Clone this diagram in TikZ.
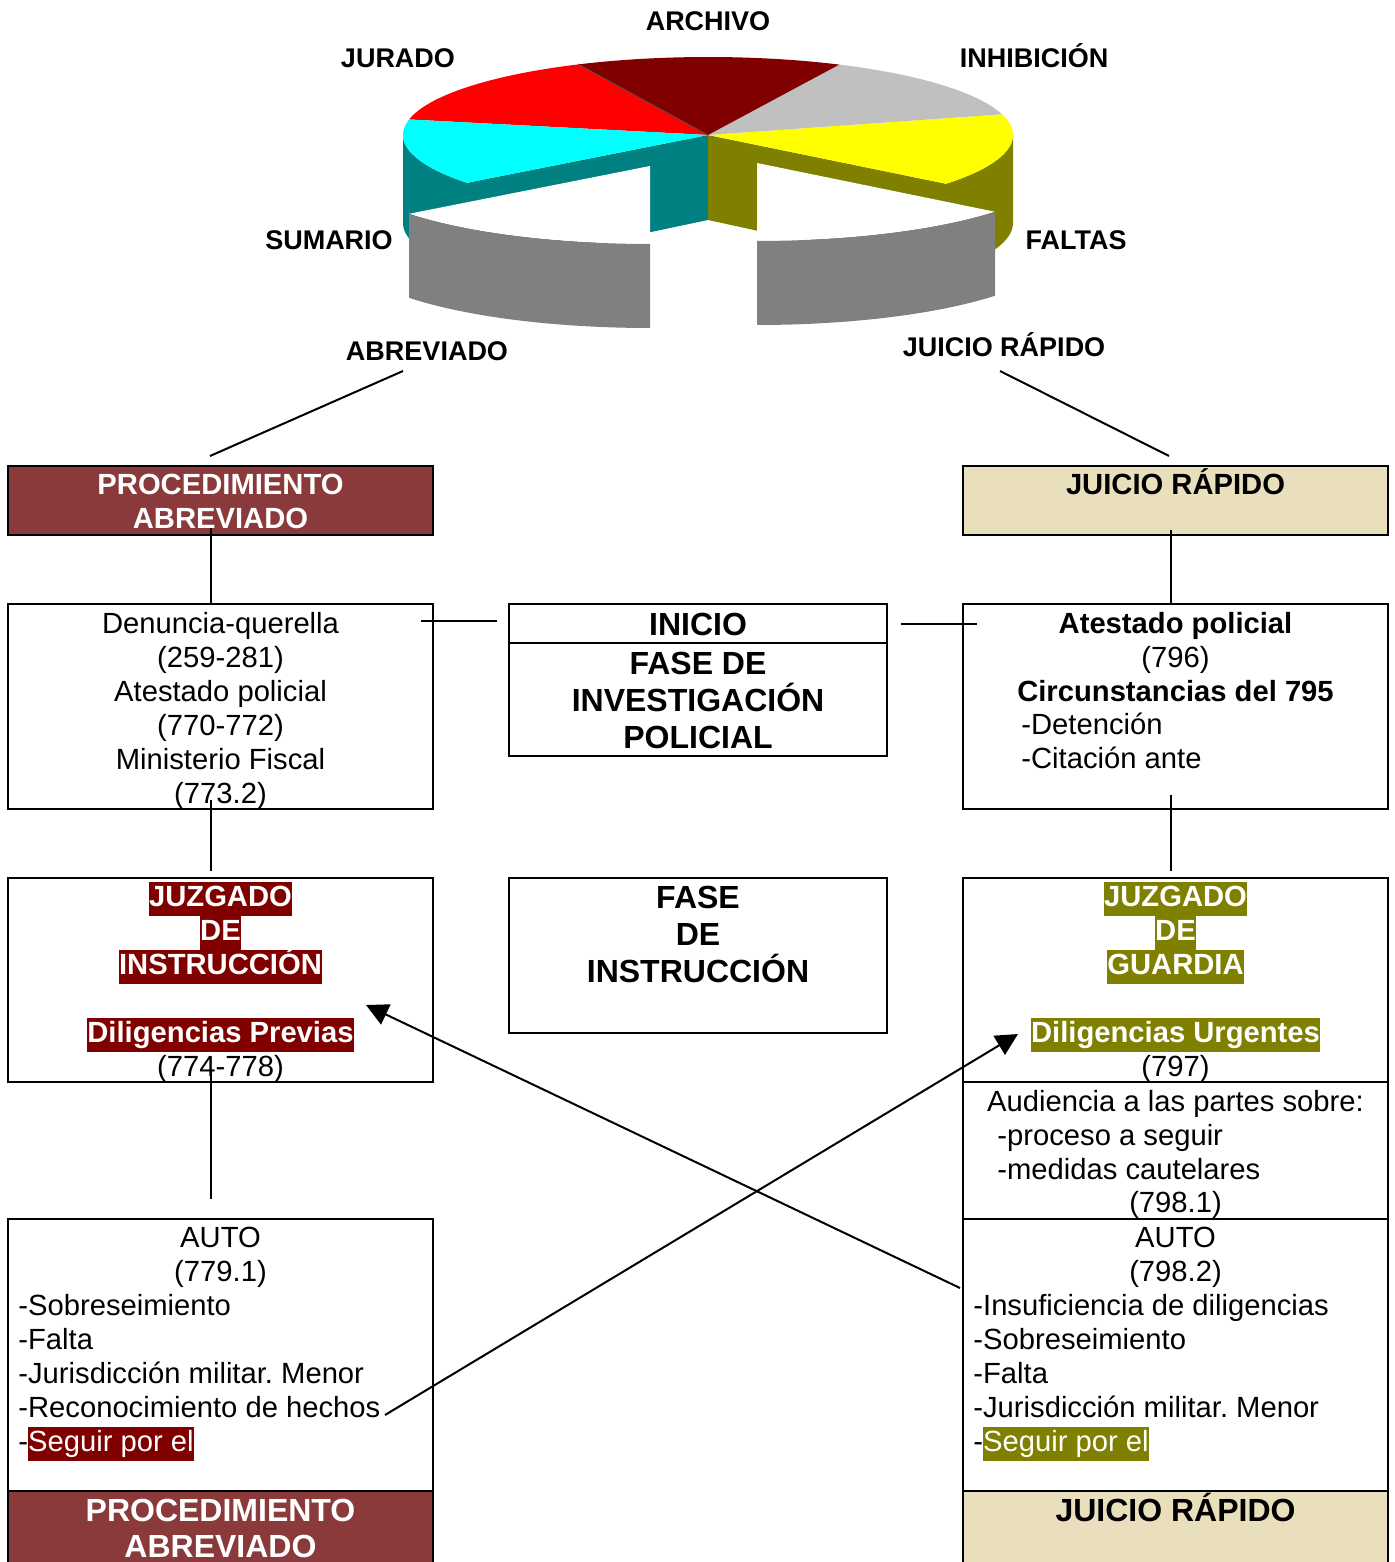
\documentclass[tikz,border=0pt]{standalone}
\usepackage{fontspec}
\setmainfont{Liberation Sans}
\usetikzlibrary{arrows.meta}
\definecolor{pared}{RGB}{138,58,58}
\definecolor{hlred}{RGB}{128,0,0}
\definecolor{hlolive}{RGB}{128,128,0}
\definecolor{beige}{RGB}{233,223,189}
\definecolor{pieteal}{RGB}{0,128,128}
\definecolor{piegray}{RGB}{128,128,128}
\definecolor{piesilver}{RGB}{192,192,192}
\definecolor{piecyan}{RGB}{0,255,255}
\definecolor{pieyellow}{RGB}{255,255,0}
\definecolor{piered}{RGB}{255,0,0}
\newcommand\Ln[1]{\strut\smash{#1}}
\newcommand\hlR[1]{{\setlength{\fboxsep}{0pt}\colorbox{hlred}{\strut\smash{\textcolor{white}{#1}}}}}
\newcommand\hlO[1]{{\setlength{\fboxsep}{0pt}\colorbox{hlolive}{\strut\smash{\textcolor{white}{#1}}}}}
\begin{document}
\frenchspacing
\begin{tikzpicture}[x=0.5pt,y=-0.5pt,
  box/.style={draw=black, line width=1.2pt, inner sep=0pt, outer sep=0pt, rectangle, minimum width=212.5pt},
  midbox/.style={draw=black, line width=1.2pt, inner sep=0pt, outer sep=0pt, rectangle, minimum width=189pt},
  conn/.style={line width=1pt, black},
  arr/.style={line width=1pt, black, -{Triangle[length=11pt,width=11pt]}},
  pielbl/.style={font=\fontsize{13.5}{16}\selectfont\bfseries, inner sep=0pt, text height=9.7pt, text depth=0pt},
  body/.style={font=\fontsize{14.6}{17}\selectfont, inner sep=0pt, align=center, anchor=north},
  bodyl/.style={font=\fontsize{14.6}{17}\selectfont, inner sep=0pt, align=left, anchor=north west},
  head/.style={font=\fontsize{16}{18.5}\selectfont\bfseries, inner sep=0pt, align=center, anchor=north},
  bighead/.style={font=\fontsize{16}{18}\selectfont\bfseries, inner sep=0pt, align=center, anchor=north}
]
\useasboundingbox (0,0) rectangle (1394,1562);
\clip (0,0) rectangle (1394,1562);

% ---------- 3D pie ----------
\fill[pieteal] (708,135) -- plot[domain=142.2:180,samples=25] ({708+305*cos(\x)},{135+78*sin(\x)})
  -- plot[domain=180:142.2,samples=25] ({708+305*cos(\x)},{223+78*sin(\x)}) -- (708,220) -- cycle;
\fill[hlolive] (708,135) -- plot[domain=38.7:0,samples=25] ({708+305*cos(\x)},{135+78*sin(\x)})
  -- plot[domain=0:38.7,samples=25] ({708+305*cos(\x)},{223+78*sin(\x)}) -- (708,220) -- cycle;
\fill[pieyellow] (708,135) -- plot[domain=-15.4:38.7,samples=30] ({708+305*cos(\x)},{135+78*sin(\x)}) -- cycle;
\fill[piesilver] (708,135) -- plot[domain=295.5:344.6,samples=30] ({708+305*cos(\x)},{135+78*sin(\x)}) -- cycle;
\fill[hlred] (708,135) -- plot[domain=244.8:295.5,samples=30] ({708+305*cos(\x)},{135+78*sin(\x)}) -- cycle;
\fill[piered] (708,135) -- plot[domain=191.5:244.8,samples=30] ({708+305*cos(\x)},{135+78*sin(\x)}) -- cycle;
\fill[piecyan] (708,135) -- plot[domain=142.2:191.5,samples=30] ({708+305*cos(\x)},{135+78*sin(\x)}) -- cycle;
\draw[line width=0.4pt, black!70] (708,135) -- (578,64);
% exploded slices
\fill[white] (650,166) -- plot[domain=90:142.2,samples=25] ({650+305*cos(\x)},{166+78*sin(\x)}) -- cycle;
\fill[piegray] plot[domain=90:142.2,samples=25] ({650+305*cos(\x)},{166+78*sin(\x)})
  -- plot[domain=142.2:90,samples=25] ({650+305*cos(\x)},{250+78*sin(\x)}) -- cycle;
\fill[white] (757,163) -- plot[domain=38.7:90,samples=25] ({757+305*cos(\x)},{163+78*sin(\x)}) -- cycle;
\fill[piegray] plot[domain=38.7:90,samples=25] ({757+305*cos(\x)},{163+78*sin(\x)})
  -- plot[domain=90:38.7,samples=25] ({757+305*cos(\x)},{247+78*sin(\x)}) -- cycle;

% pie labels
\node[pielbl] (lArch) at (708,21) {ARCHIVO};
\node[pielbl] (lJur) at (398,58) {JURADO};
\node[pielbl] (lInh) at (1034,58) {INHIBICIÓN};
\node[pielbl] (lSum) at (329,240) {SUMARIO};
\node[pielbl] (lFal) at (1076,240) {FALTAS};
\node[pielbl] (lAbr) at (427,351) {ABREVIADO};
\node[pielbl] (lJR) at (1004,347) {JUICIO RÁPIDO};

% ---------- boxes ----------
\node[box, fill=pared, minimum height=34.5pt] (pa1) at (220.5,500.5) {};
\node[box, minimum height=102.5pt] (den) at (220.5,706.5) {};
\node[box, minimum height=102pt] (jzi) at (220.5,980) {};
\node[box, minimum height=136pt] (auto1) at (220.5,1355) {};
\node[box, fill=pared, minimum height=42pt] (pa2) at (220.5,1533) {};

\node[midbox, minimum height=76pt] (ini) at (698,680) {};
\node[midbox, minimum height=77.5pt] (fdi) at (698,955.5) {};

\node[box, fill=beige, minimum height=34.5pt] (jr1) at (1175.5,500.5) {};
\node[box, minimum height=102.5pt] (ate) at (1175.5,706.5) {};
\node[box, minimum height=102pt] (jzg) at (1175.5,980) {};
\node[box, minimum height=68.5pt] (aud) at (1175.5,1150.5) {};
\node[box, minimum height=136pt] (auto2) at (1175.5,1355) {};
\node[box, fill=beige, minimum height=42pt] (jr2) at (1175.5,1533) {};

\draw[line width=1.2pt] (ini.west |- 0,643) -- (ini.east |- 0,643);

% ---------- texts ----------
\node[body, text=white, font=\fontsize{14.6}{17}\selectfont\bfseries] (tpa1) at (220.5,469.8)
  {\Ln{PROCEDIMIENTO}\\\Ln{ABREVIADO}};
\node[body] (tden) at (220.5,608.8)
  {\Ln{Denuncia-querella}\\\Ln{(259-281)}\\\Ln{Atestado policial}\\\Ln{(770-772)}\\\Ln{Ministerio Fiscal}\\\Ln{(773.2)}};
\node[body] (tjzi) at (220.5,881.8)
  {\hlR{\bfseries JUZGADO}\\\hlR{\bfseries DE}\\\hlR{\bfseries INSTRUCCIÓN}\\\strut\\\hlR{\bfseries Diligencias Previas}\\\Ln{(774-778)}};
\node[body] (tauto1) at (220.5,1222.8) {\Ln{AUTO}\\\Ln{(779.1)}};
\node[bodyl] (lauto1) at (18,1290.8)
  {\Ln{-Sobreseimiento}\\\Ln{-Falta}\\\Ln{-Jurisdicción militar. Menor}\\\Ln{-Reconocimiento de hechos}\\\strut -\hlR{Seguir por el}};
\node[bighead, text=white] (tpa2) at (220.5,1496) {\Ln{PROCEDIMIENTO}\\\Ln{ABREVIADO}};

\node[head] (tini) at (698,609.6) {\Ln{INICIO}};
\node[head] (tfase) at (698,648.6) {\Ln{FASE DE}\\\Ln{INVESTIGACIÓN}\\\Ln{POLICIAL}};
\node[head] (tfdi) at (698,882.6) {\Ln{FASE}\\\Ln{DE}\\\Ln{INSTRUCCIÓN}};

\node[body, font=\fontsize{14.6}{17}\selectfont\bfseries] (tjr1) at (1175.5,469.8) {\Ln{JUICIO RÁPIDO}};
\node[body] (tate) at (1175.5,608.8)
  {\textbf{\Ln{Atestado policial}}\\\Ln{(796)}\\\textbf{\Ln{Circunstancias del 795}}};
\node[bodyl] (late) at (1021,709.8) {\Ln{-Detención}\\\Ln{-Citación ante}};
\node[body] (tjzg) at (1175.5,881.8)
  {\hlO{\bfseries JUZGADO}\\\hlO{\bfseries DE}\\\hlO{\bfseries GUARDIA}\\\strut\\\hlO{\bfseries Diligencias Urgentes}\\\Ln{(797)}};
\node[body] (taud) at (1175.5,1086.8) {\Ln{Audiencia a las partes sobre:}};
\node[bodyl] (laud) at (997,1120.8) {\Ln{-proceso a seguir}\\\Ln{-medidas cautelares}};
\node[body] (taud2) at (1175.5,1187.8) {\Ln{(798.1)}};
\node[body] (tauto2) at (1175.5,1222.8) {\Ln{AUTO}\\\Ln{(798.2)}};
\node[bodyl] (lauto2) at (973,1290.8)
  {\Ln{-Insuficiencia de diligencias}\\\Ln{-Sobreseimiento}\\\Ln{-Falta}\\\Ln{-Jurisdicción militar. Menor}\\\strut -\hlO{Seguir por el}};
\node[bighead] (tjr2) at (1175.5,1496) {\Ln{JUICIO RÁPIDO}};

% ---------- connectors ----------
\coordinate (l1a) at (403,371); \coordinate (l1b) at (210,456);
\coordinate (l2a) at (1000,371); \coordinate (l2b) at (1169,456);
\coordinate (v1a) at (211,528); \coordinate (v1b) at (211,604);
\coordinate (v2a) at (1171,530); \coordinate (v2b) at (1171,604);
\coordinate (h1a) at (421,621); \coordinate (h1b) at (497,621);
\coordinate (h2a) at (901,624); \coordinate (h2b) at (977,624);
\coordinate (v3a) at (211,800); \coordinate (v3b) at (211,871);
\coordinate (v4a) at (1171,795); \coordinate (v4b) at (1171,871);
\coordinate (v5a) at (211,1070); \coordinate (v5b) at (211,1199);
\coordinate (a1a) at (960,1288); \coordinate (a1b) at (366,1005);
\coordinate (a2a) at (385,1415); \coordinate (a2b) at (1018,1034);

\draw[conn] (l1a) -- (l1b);
\draw[conn] (l2a) -- (l2b);
\draw[conn] (v1a) -- (v1b);
\draw[conn] (v2a) -- (v2b);
\draw[conn] (h1a) -- (h1b);
\draw[conn] (h2a) -- (h2b);
\draw[conn] (v3a) -- (v3b);
\draw[conn] (v4a) -- (v4b);
\draw[conn] (v5a) -- (v5b);
\draw[arr] (a1a) -- (a1b);
\draw[arr] (a2a) -- (a2b);
\end{tikzpicture}
\end{document}
